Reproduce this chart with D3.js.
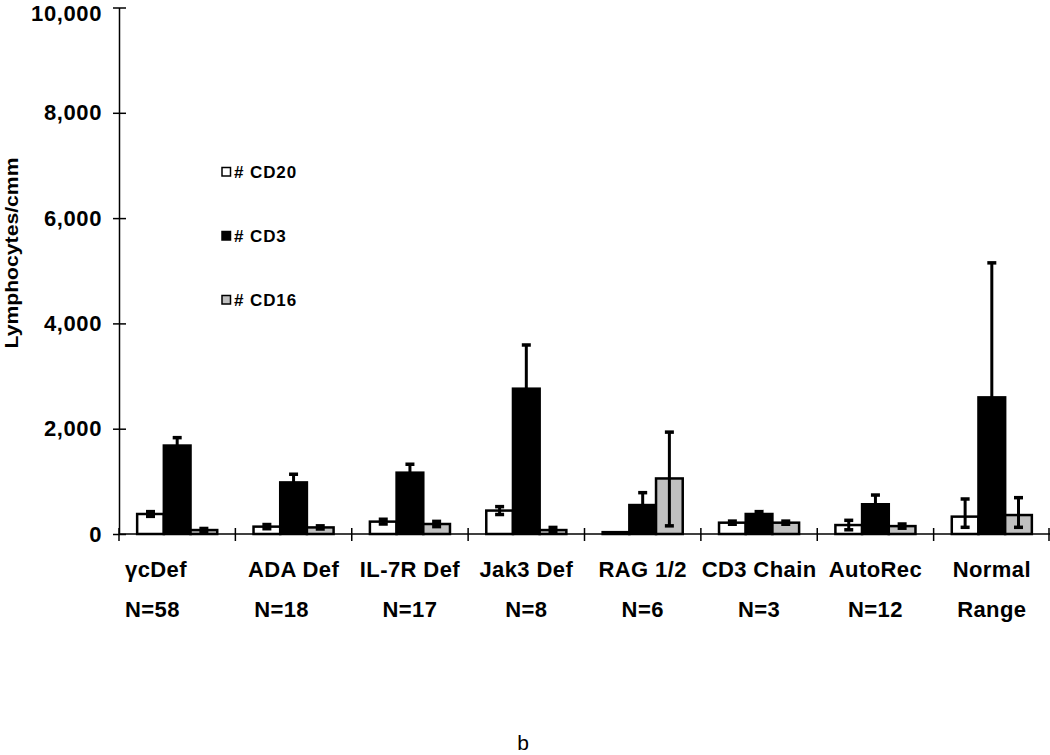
<!DOCTYPE html>
<html>
<head>
<meta charset="utf-8">
<script src="https://cdn.jsdelivr.net/npm/d3@7"></script>
<style>
  html, body { margin: 0; padding: 0; background: #fff; }
  svg { display: block; font-family: "Liberation Sans", Arial, sans-serif; }
</style>
</head>
<body>
<svg id="chart" width="1050" height="755"></svg>
<script>
// ---- data ----
const categories = ["γcDef", "ADA Def", "IL-7R Def", "Jak3 Def", "RAG 1/2", "CD3 Chain", "AutoRec", "Normal"];
const subLabels = ["N=58", "N=18", "N=17", "N=8", "N=6", "N=3", "N=12", "Range"];
const seriesNames = ["# CD20", "# CD3", "# CD16"];
const cd20 = [380, 140, 235, 445, 35, 215, 170, 330];
const cd3 = [1680, 980, 1165, 2760, 550, 380, 565, 2595];
const cd16 = [75, 125, 190, 75, 1055, 215, 150, 360];
const cd20ErrUp = [45, 40, 45, 75, 0, 30, 90, 335];
const cd20ErrDown = [45, 40, 45, 75, 0, 30, 90, 203];
const cd3ErrUp = [150, 155, 160, 830, 235, 45, 175, 2555];
const cd3ErrDown = [150, 155, 160, 830, 235, 45, 175, 2555];
const cd16ErrUp = [30, 30, 50, 50, 880, 30, 40, 330];
const cd16ErrDown = [30, 30, 50, 50, 900, 30, 40, 233];
const yTicks = [0, 2000, 4000, 6000, 8000, 10000];
const yLabel = "Lymphocytes/cmm";
const panelLabel = "b";

// ---- build ----
const fills = ["#ffffff", "#000000", "#c0c0c0"];
const series = [
  { name: seriesNames[0], values: cd20, up: cd20ErrUp, down: cd20ErrDown, fill: fills[0] },
  { name: seriesNames[1], values: cd3, up: cd3ErrUp, down: cd3ErrDown, fill: fills[1] },
  { name: seriesNames[2], values: cd16, up: cd16ErrUp, down: cd16ErrDown, fill: fills[2] }
];

const svg = d3.select("#chart");
const mLeft = 119, mRight = 1050, mTop = 7.5, mBottom = 534;

const x0 = d3.scaleBand().domain(categories).range([mLeft, mRight]).padding(0);
const x1 = d3.scaleBand().domain(series.map(s => s.name)).range([0, x0.bandwidth()])
  .paddingInner(0).paddingOuter(0.68);
const y = d3.scaleLinear().domain([0, 10000]).range([mBottom, mTop]);

// bars
const groups = svg.append("g").selectAll("g")
  .data(categories).join("g")
  .attr("transform", d => `translate(${x0(d)},0)`);

series.forEach(s => {
  groups.append("rect")
    .attr("x", x1(s.name))
    .attr("y", (d, i) => y(s.values[i]))
    .attr("width", x1.bandwidth())
    .attr("height", (d, i) => y(0) - y(s.values[i]))
    .attr("fill", s.fill)
    .attr("stroke", "#000")
    .attr("stroke-width", 2.5);
});

// error bars
series.forEach(s => {
  const cx = x1(s.name) + x1.bandwidth() / 2;
  groups.each(function (d, i) {
    if (s.up[i] <= 0) return;
    const g = d3.select(this);
    const yt = y(s.values[i] + s.up[i]);
    const yb = y(Math.max(0, s.values[i] - s.down[i]));
    g.append("line").attr("x1", cx).attr("x2", cx).attr("y1", yt).attr("y2", yb)
      .attr("stroke", "#000").attr("stroke-width", 3);
    [yt, yb].forEach(yy => {
      g.append("line").attr("x1", cx - 4.5).attr("x2", cx + 4.5).attr("y1", yy).attr("y2", yy)
        .attr("stroke", "#000").attr("stroke-width", 3.5);
    });
  });
});

// y axis
const yAxis = svg.append("g").attr("transform", `translate(${mLeft},0)`)
  .call(d3.axisLeft(y).tickValues(yTicks).tickFormat(d3.format(",")).tickSizeInner(6).tickSizeOuter(0).tickPadding(11));
yAxis.select(".domain").attr("stroke", "#000").attr("stroke-width", 1.5);
yAxis.selectAll(".tick line").attr("x1", 7).attr("x2", -6).attr("stroke-width", 1.5);
yAxis.selectAll(".tick text")
  .attr("font-size", 22).attr("font-weight", "bold").attr("fill", "#000")
  .attr("letter-spacing", 0.6)
  .attr("font-family", "Liberation Sans, Arial, sans-serif")
  .attr("dy", d => d === 10000 ? "0.57em" : "0.32em");

// x axis
svg.append("line").attr("x1", mLeft).attr("x2", mRight).attr("y1", y(0)).attr("y2", y(0))
  .attr("stroke", "#000").attr("stroke-width", 1.5);
const xTickPos = categories.map(c => x0(c)).concat([x0(categories[categories.length - 1]) + x0.bandwidth() - 1]);
svg.append("g").selectAll("line").data(xTickPos).join("line")
  .attr("x1", d => d).attr("x2", d => d)
  .attr("y1", y(0) - 6).attr("y2", y(0) + 7)
  .attr("stroke", "#000").attr("stroke-width", 1.5);

// category labels
const lab = svg.append("g").attr("font-size", 22).attr("font-weight", "bold").attr("letter-spacing", 0.4);
categories.forEach((c, i) => {
  const first = i === 0;
  const cx = first ? x0(c) + 6 : x0(c) + x0.bandwidth() / 2;
  lab.append("text").attr("x", cx).attr("y", 577)
    .attr("text-anchor", first ? "start" : "middle").text(c);
  lab.append("text").attr("x", cx + (i === 1 ? -12 : 0)).attr("y", 617)
    .attr("text-anchor", first ? "start" : "middle").text(subLabels[i]);
});

// legend
const leg = svg.append("g");
series.forEach((s, i) => {
  const yy = 172 + i * 64;
  leg.append("rect").attr("x", 222).attr("y", yy - 4.5).attr("width", 8.5).attr("height", 8.5)
    .attr("fill", s.fill).attr("stroke", "#000").attr("stroke-width", 1.5);
  leg.append("text").attr("x", 234).attr("y", yy + 6).attr("font-size", 17).attr("font-weight", "bold")
    .attr("letter-spacing", 0.9).text(s.name);
});

// y label
svg.append("text")
  .attr("transform", `translate(18,253) rotate(-90)`)
  .attr("text-anchor", "middle")
  .attr("font-size", 18).attr("font-weight", "bold")
  .attr("textLength", 191).attr("lengthAdjust", "spacingAndGlyphs")
  .text(yLabel);

// panel label
svg.append("text").attr("x", 523).attr("y", 750).attr("text-anchor", "middle")
  .attr("font-size", 21).text(panelLabel);
</script>
</body>
</html>
